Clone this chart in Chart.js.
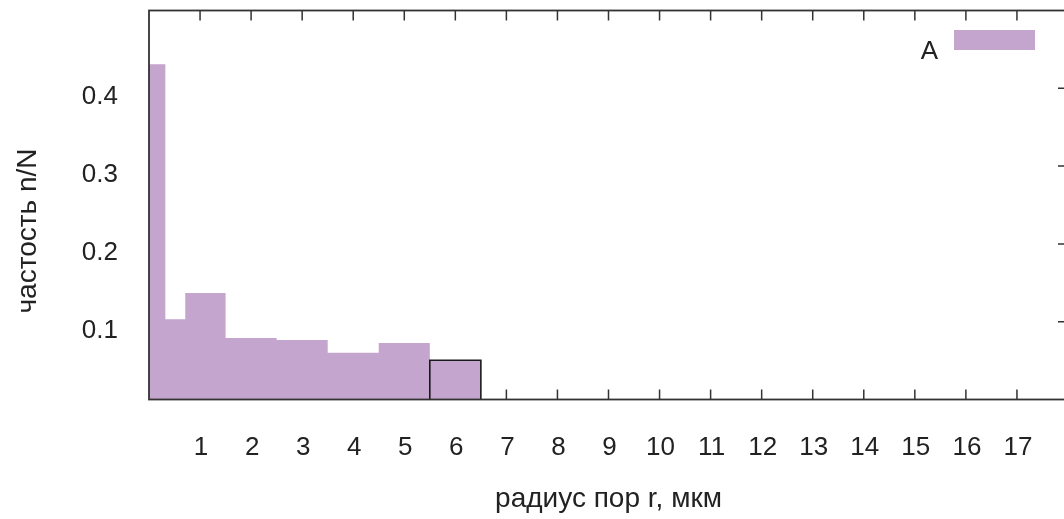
<!DOCTYPE html>
<html>
<head>
<meta charset="utf-8">
<script src="https://cdn.jsdelivr.net/npm/chart.js@4.4.0/dist/chart.umd.min.js"></script>
<style>
  html, body { margin: 0; padding: 0; background: #fff; overflow: hidden; }
  #wrap { width: 1064px; height: 519px; overflow: hidden; }
  #box { width: 1072px; height: 519px; }
</style>
</head>
<body>
<div id="wrap"><div id="box"><canvas id="chart"></canvas></div></div>
<script>
// bin edges (мкм) and frequency of each bin
const binEdges = [0, 0.32, 0.71, 1.5, 2.5, 3.5, 4.5, 5.5, 6.5];
const frequencies = [0.431, 0.103, 0.137, 0.079, 0.0765, 0.06, 0.0726, 0.0505];
const markedBin = 7; // bin drawn with a black outline
const xTicks = [1, 2, 3, 4, 5, 6, 7, 8, 9, 10, 11, 12, 13, 14, 15, 16, 17];
const yTicks = [0.1, 0.2, 0.3, 0.4];
const seriesName = "A";
const xTitle = "радиус пор r, мкм";
const yTitle = "частость n/N";

const fillColor = "#c3a5cd";
const inkColor = "#222";
const font = "'Liberation Sans', Arial, sans-serif";

const histPoints = binEdges.map((e, i) => ({
  x: e,
  y: frequencies[Math.min(i, frequencies.length - 1)],
}));

const outlinePoints = [
  { x: binEdges[markedBin], y: 0 },
  { x: binEdges[markedBin], y: frequencies[markedBin] },
  { x: binEdges[markedBin + 1], y: frequencies[markedBin] },
  { x: binEdges[markedBin + 1], y: 0 },
];

// gnuplot style frame: inward ticks, border on top of the bars
const framePlugin = {
  id: "frame",
  beforeDatasetsDraw(chart) {
    const { ctx, chartArea: a, scales: { x, y } } = chart;
    ctx.save();
    ctx.strokeStyle = "#333";
    ctx.lineWidth = 1.5;
    ctx.beginPath();
    xTicks.forEach((v) => {
      const px = x.getPixelForValue(v);
      ctx.moveTo(px, a.bottom);
      ctx.lineTo(px, a.bottom - 10);
      ctx.moveTo(px, a.top);
      ctx.lineTo(px, a.top + 10);
    });
    yTicks.forEach((v) => {
      const py = y.getPixelForValue(v);
      ctx.moveTo(a.left, py);
      ctx.lineTo(a.left + 10, py);
      ctx.moveTo(a.right, py);
      ctx.lineTo(a.right - 10, py);
    });
    ctx.stroke();
    ctx.restore();
  },
  afterDatasetsDraw(chart) {
    const { ctx, chartArea: a } = chart;
    ctx.save();
    ctx.strokeStyle = "#333";
    ctx.lineWidth = 1.8;
    ctx.strokeRect(a.left, a.top, a.right - a.left, a.bottom - a.top);
    ctx.restore();
  },
  afterDraw(chart) {
    const { ctx, chartArea: a } = chart;
    ctx.save();
    // legend
    const bx = a.right - 114;
    const by = a.top + 19.5;
    ctx.fillStyle = fillColor;
    ctx.fillRect(bx, by, 81, 20);
    ctx.fillStyle = inkColor;
    ctx.font = "26px " + font;
    ctx.textAlign = "right";
    ctx.textBaseline = "alphabetic";
    ctx.fillText(seriesName, bx - 16, a.top + 48.5);
    // y title
    ctx.font = "28px " + font;
    ctx.translate(28, 231);
    ctx.rotate(-Math.PI / 2);
    ctx.textAlign = "center";
    ctx.textBaseline = "middle";
    ctx.fillText(yTitle, 0, 0);
    ctx.restore();
  },
};

const dropPadding = (s) => {
  s.paddingTop = 0;
  s.paddingBottom = 0;
  s.paddingLeft = 0;
  s.paddingRight = 0;
};

const chart = new Chart(document.getElementById("chart"), {
  type: "line",
  data: {
    datasets: [
      {
        label: seriesName,
        data: histPoints,
        stepped: true,
        fill: "origin",
        backgroundColor: fillColor,
        borderColor: "rgba(0,0,0,0)",
        borderWidth: 1,
        pointRadius: 0,
        order: 2,
      },
      {
        label: "outline",
        data: outlinePoints,
        fill: false,
        borderColor: "#1a1a1a",
        borderWidth: 1.6,
        pointRadius: 0,
        order: 1,
      },
    ],
  },
  options: {
    animation: false,
    responsive: true,
    maintainAspectRatio: false,
    layout: { padding: { top: 10.5, right: 4, left: 0, bottom: 0 } },
    plugins: { legend: { display: false }, tooltip: { enabled: false } },
    scales: {
      x: {
        type: "linear",
        min: 0,
        max: 18,
        afterBuildTicks: (s) => { s.ticks = xTicks.map((v) => ({ value: v })); },
        afterFit: (s) => { s.height = 119.5; dropPadding(s); },
        grid: { display: false, drawTicks: false },
        border: { display: false },
        ticks: {
          autoSkip: false,
          maxRotation: 0,
          padding: 33,
          labelOffset: 1,
          color: inkColor,
          font: { family: font, size: 26 },
        },
        title: {
          display: true,
          text: xTitle,
          color: inkColor,
          font: { family: font, size: 28 },
          padding: { top: 0, bottom: 3 },
        },
      },
      y: {
        min: 0,
        max: 0.5,
        afterBuildTicks: (s) => { s.ticks = yTicks.map((v) => ({ value: v })); },
        afterFit: (s) => { s.width = 149; dropPadding(s); },
        grid: { display: false, drawTicks: false },
        border: { display: false },
        ticks: {
          padding: 31,
          labelOffset: 9,
          color: inkColor,
          font: { family: font, size: 26 },
          callback: (v) => v.toFixed(1),
        },
      },
    },
  },
  plugins: [framePlugin],
});
</script>
</body>
</html>
